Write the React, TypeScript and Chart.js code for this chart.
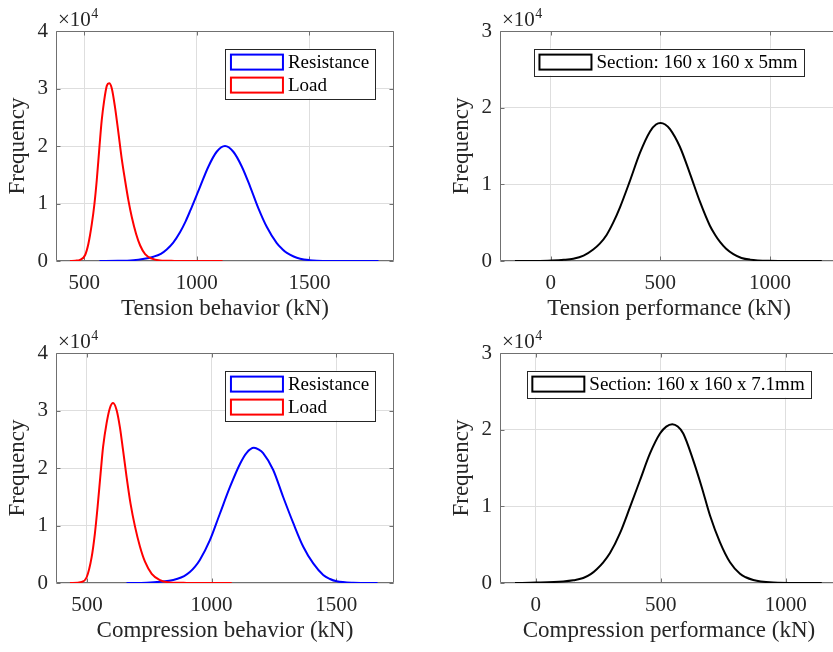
import React, { useEffect, useRef } from 'react';
import { Chart, registerables } from 'chart.js';

Chart.register(...registerables);

const FONT = '"Liberation Serif", "Times New Roman", Times, serif';
const TEXT = '#262626';
const BOX = '#707070';
const GRID = '#dedede';

// ---------- Tension behavior (top-left) ----------
const TL_RES_X = [567, 650, 718, 760, 807, 840, 866, 895, 925, 950, 970, 1014, 1051, 1088, 1125, 1162, 1200, 1237, 1273, 1311, 1355, 1380, 1400, 1430, 1459, 1500, 1533, 1600, 1700, 1807];
const TL_RES_Y = [0, 30, 150, 350, 750, 1250, 2000, 3200, 5000, 6900, 8700, 12900, 16400, 19000, 20000, 19000, 16400, 12900, 9200, 5900, 3100, 2050, 1400, 780, 400, 150, 60, 10, 0, 0];
const TL_LOAD_X = [436, 460, 481, 503, 518, 533, 545, 555, 567, 577, 588, 600, 610, 622, 636, 651, 666, 681, 696, 711, 730, 748, 770, 800, 836, 900, 1000, 1114];
const TL_LOAD_Y = [0, 50, 200, 1000, 3000, 6400, 10000, 14000, 19800, 24400, 27900, 30500, 30900, 30000, 26800, 22400, 17800, 14000, 10500, 7600, 4700, 2700, 1200, 400, 100, 20, 0, 0];
const TL_X_TICKS = [500, 1000, 1500];
const TL_Y_TICKS = [0, 10000, 20000, 30000, 40000];

// ---------- Tension performance (top-right) ----------
const TR_X = [-163, -50, 5, 60, 103, 150, 194, 225, 255, 285, 316, 362, 407, 453, 480, 501, 522, 544, 589, 635, 681, 726, 750, 772, 800, 833, 870, 909, 993, 1100, 1236];
const TR_Y = [0, 0, 50, 150, 300, 700, 1500, 2300, 3400, 5000, 7000, 10500, 14100, 16900, 17800, 18000, 17800, 17200, 14900, 11400, 7700, 4600, 3400, 2500, 1600, 900, 400, 180, 30, 0, 0];
const TR_X_TICKS = [0, 500, 1000];
const TR_Y_TICKS = [0, 10000, 20000, 30000];

// ---------- Compression behavior (bottom-left) ----------
const BL_RES_X = [659, 740, 793, 830, 860, 890, 913, 933, 953, 993, 1033, 1074, 1114, 1140, 1170, 1190, 1207, 1247, 1287, 1328, 1368, 1408, 1448, 1475, 1502, 1568, 1666];
const BL_RES_Y = [0, 60, 200, 400, 700, 1200, 1900, 2800, 4000, 7400, 12000, 16700, 20700, 22600, 23500, 23200, 22600, 19700, 15000, 10400, 6300, 3400, 1400, 700, 300, 50, 0];
const BL_LOAD_X = [432, 479, 499, 519, 532, 543, 555, 565, 579, 592, 605, 619, 632, 645, 659, 675, 693, 713, 733, 760, 793, 833, 900, 1000, 1081];
const BL_LOAD_Y = [0, 200, 1000, 4500, 8600, 13300, 19100, 23700, 27800, 30400, 31300, 30100, 27200, 23100, 18500, 13800, 9800, 6300, 3700, 1600, 500, 100, 20, 0, 0];
const BL_X_TICKS = [500, 1000, 1500];
const BL_Y_TICKS = [0, 10000, 20000, 30000, 40000];

// ---------- Compression performance (bottom-right) ----------
const BR_X = [-83, 0, 110, 150, 190, 220, 244, 270, 297, 337, 377, 417, 457, 497, 522, 546, 568, 590, 630, 664, 697, 737, 777, 817, 840, 870, 900, 950, 1040, 1144];
const BR_Y = [0, 50, 200, 350, 650, 1150, 1800, 2700, 3900, 6500, 9900, 13400, 16900, 19500, 20400, 20700, 20400, 19500, 16000, 12500, 8800, 5300, 2700, 1200, 750, 400, 200, 60, 0, 0];
const BR_X_TICKS = [0, 500, 1000];
const BR_Y_TICKS = [0, 10000, 20000, 30000];

type Series = { label: string; color: string; xs: number[]; ys: number[] };

type PanelCfg = {
  left: number;
  top: number;
  width: number;
  height: number;
  area: { l: number; t: number; r: number; b: number };
  xMin: number;
  xMax: number;
  yMax: number;
  xTicks: number[];
  yTicks: number[];
  xTitle: string;
  yTitlePad: number;
  series: Series[]; // drawing order: first on top
  legend: Series[];
  legendAnchor: 'ne' | 'n';
};

function makeDecor(cfg: PanelCfg) {
  return {
    id: 'matlabDecor',
    beforeDatasetsDraw(chart: any) {
      const { ctx, chartArea: a } = chart;
      const xs = chart.scales.x;
      const ys = chart.scales.y;
      ctx.save();
      ctx.strokeStyle = BOX;
      ctx.lineWidth = 1;
      const L = 4;
      const top = Math.round(a.top) + 0.5;
      const bot = Math.round(a.bottom) - 0.5;
      const lf = Math.round(a.left) + 0.5;
      const rt = Math.round(a.right) - 0.5;
      ctx.beginPath();
      xs.ticks.forEach((t: any) => {
        const p = Math.round(xs.getPixelForValue(t.value)) + 0.5;
        ctx.moveTo(p, bot);
        ctx.lineTo(p, bot - L);
        ctx.moveTo(p, top);
        ctx.lineTo(p, top + L);
      });
      ys.ticks.forEach((t: any) => {
        const p = Math.round(ys.getPixelForValue(t.value)) + 0.5;
        ctx.moveTo(lf, p);
        ctx.lineTo(lf + L, p);
        ctx.moveTo(rt, p);
        ctx.lineTo(rt - L, p);
      });
      ctx.rect(lf, top, rt - lf, bot - top);
      ctx.stroke();
      ctx.restore();
    },
    afterDraw(chart: any) {
      const { ctx, chartArea: a } = chart;
      ctx.save();
      // exponent label
      ctx.fillStyle = TEXT;
      ctx.textBaseline = 'alphabetic';
      ctx.textAlign = 'left';
      ctx.font = `21px ${FONT}`;
      const ex = a.left + 2;
      const ey = a.top - 5;
      ctx.fillText('\u00d710', ex, ey);
      const w10 = ctx.measureText('\u00d710').width;
      ctx.font = `14px ${FONT}`;
      ctx.fillText('4', ex + w10 + 0.5, ey - 8);

      // legend
      const items = cfg.legend;
      ctx.font = `19px ${FONT}`;
      const tw = Math.max(...items.map((it) => ctx.measureText(it.label).width));
      const padL = 4.5, patchW = 54, patchH = 17, gap = 4, padR = 6.5, padT = 5, rowGap = 6;
      const w = padL + patchW + gap + tw + padR;
      const h = padT * 2 + items.length * patchH + (items.length - 1) * rowGap;
      const x0 = cfg.legendAnchor === 'ne' ? a.right - 18.3 - w : (a.left + a.right) / 2 - w / 2;
      const y0 = a.top + 17.6;
      ctx.fillStyle = '#ffffff';
      ctx.fillRect(x0, y0, w, h);
      ctx.strokeStyle = '#262626';
      ctx.lineWidth = 1;
      ctx.strokeRect(Math.round(x0) + 0.5, Math.round(y0) + 0.5, Math.round(w), Math.round(h));
      items.forEach((it, i) => {
        const py = y0 + padT + i * (patchH + rowGap);
        ctx.strokeStyle = it.color;
        ctx.lineWidth = 2;
        ctx.strokeRect(x0 + padL + 1, py + 1, patchW - 2, patchH - 2);
        ctx.fillStyle = '#000000';
        ctx.textBaseline = 'middle';
        ctx.fillText(it.label, x0 + padL + patchW + gap, py + patchH / 2 + 0.5);
      });
      ctx.restore();
    },
  };
}

function Panel({ cfg }: { cfg: PanelCfg }) {
  const ref = useRef<HTMLCanvasElement | null>(null);
  useEffect(() => {
    if (!ref.current) return;
    const { area, width, height } = cfg;
    const xTitleMid = area.b + 48;
    const chart = new Chart(ref.current, {
      type: 'line',
      data: {
        datasets: cfg.series.map((s) => ({
          label: s.label,
          data: s.xs.map((x, i) => ({ x, y: s.ys[i] })),
          borderColor: s.color,
          backgroundColor: s.color,
          borderWidth: 2,
          pointRadius: 0,
          fill: false,
          cubicInterpolationMode: 'monotone' as const,
        })),
      },
      options: {
        responsive: false,
        animation: false,
        events: [],
        layout: { padding: { left: 0, top: area.t, right: width - area.r, bottom: 0 } },
        plugins: { legend: { display: false }, tooltip: { enabled: false } },
        scales: {
          x: {
            type: 'linear',
            min: cfg.xMin,
            max: cfg.xMax,
            afterBuildTicks: (scale: any) => {
              scale.ticks = cfg.xTicks.map((v) => ({ value: v }));
            },
            afterFit: (scale: any) => {
              scale.height = height - area.b;
            },
            grid: { color: GRID, lineWidth: 1, drawTicks: false },
            border: { display: false },
            ticks: {
              autoSkip: false,
              maxRotation: 0,
              padding: 9.5,
              color: TEXT,
              font: { family: FONT, size: 21 },
              callback: (v: any) => String(v),
            },
            title: {
              display: true,
              text: cfg.xTitle,
              color: TEXT,
              font: { family: FONT, size: 23 },
              padding: { top: 0, bottom: height - xTitleMid - 13.8 },
            },
          },
          y: {
            type: 'linear',
            min: 0,
            max: cfg.yMax,
            afterBuildTicks: (scale: any) => {
              scale.ticks = cfg.yTicks.map((v) => ({ value: v }));
            },
            afterFit: (scale: any) => {
              scale.width = area.l;
            },
            grid: { color: GRID, lineWidth: 1, drawTicks: false },
            border: { display: false },
            ticks: {
              autoSkip: false,
              padding: 8,
              color: TEXT,
              font: { family: FONT, size: 21 },
              callback: (v: any) => String(v / 10000),
            },
            title: {
              display: true,
              text: 'Frequency',
              color: TEXT,
              font: { family: FONT, size: 23 },
              padding: { top: cfg.yTitlePad, bottom: 0 },
            },
          },
        },
      },
      plugins: [makeDecor(cfg)],
    } as any);
    return () => chart.destroy();
  }, [cfg]);
  return (
    <canvas
      ref={ref}
      width={cfg.width}
      height={cfg.height}
      style={{ position: 'absolute', left: cfg.left, top: cfg.top, width: cfg.width, height: cfg.height }}
    />
  );
}

const RES_TL: Series = { label: 'Resistance', color: '#0000ff', xs: TL_RES_X, ys: TL_RES_Y };
const LOAD_TL: Series = { label: 'Load', color: '#ff0000', xs: TL_LOAD_X, ys: TL_LOAD_Y };
const RES_BL: Series = { label: 'Resistance', color: '#0000ff', xs: BL_RES_X, ys: BL_RES_Y };
const LOAD_BL: Series = { label: 'Load', color: '#ff0000', xs: BL_LOAD_X, ys: BL_LOAD_Y };
const SEC_TR: Series = { label: 'Section: 160 x 160 x 5mm', color: '#000000', xs: TR_X, ys: TR_Y };
const SEC_BR: Series = { label: 'Section: 160 x 160 x 7.1mm', color: '#000000', xs: BR_X, ys: BR_Y };

const PANELS: PanelCfg[] = [
  {
    left: 0, top: 0, width: 420, height: 326,
    area: { l: 56, t: 31, r: 394, b: 261 },
    xMin: 374, xMax: 1876, yMax: 40000,
    xTicks: TL_X_TICKS, yTicks: TL_Y_TICKS,
    xTitle: 'Tension behavior (kN)', yTitlePad: 4,
    series: [LOAD_TL, RES_TL], legend: [RES_TL, LOAD_TL], legendAnchor: 'ne',
  },
  {
    left: 420, top: 0, width: 430, height: 326,
    area: { l: 80, t: 31, r: 418, b: 261 },
    xMin: -231, xMax: 1310, yMax: 30000,
    xTicks: TR_X_TICKS, yTicks: TR_Y_TICKS,
    xTitle: 'Tension performance (kN)', yTitlePad: 28,
    series: [SEC_TR], legend: [SEC_TR], legendAnchor: 'n',
  },
  {
    left: 0, top: 326, width: 420, height: 326,
    area: { l: 56, t: 27, r: 394, b: 257 },
    xMin: 376, xMax: 1732, yMax: 40000,
    xTicks: BL_X_TICKS, yTicks: BL_Y_TICKS,
    xTitle: 'Compression behavior (kN)', yTitlePad: 4,
    series: [LOAD_BL, RES_BL], legend: [RES_BL, LOAD_BL], legendAnchor: 'ne',
  },
  {
    left: 420, top: 326, width: 430, height: 326,
    area: { l: 80, t: 27, r: 418, b: 257 },
    xMin: -143, xMax: 1209, yMax: 30000,
    xTicks: BR_X_TICKS, yTicks: BR_Y_TICKS,
    xTitle: 'Compression performance (kN)', yTitlePad: 28,
    series: [SEC_BR], legend: [SEC_BR], legendAnchor: 'n',
  },
];

export default function App() {
  return (
    <div
      style={{
        position: 'absolute',
        left: 0,
        top: 0,
        width: 833,
        height: 652,
        overflow: 'hidden',
        background: '#ffffff',
      }}
    >
      {PANELS.map((p, i) => (
        <Panel key={i} cfg={p} />
      ))}
    </div>
  );
}
